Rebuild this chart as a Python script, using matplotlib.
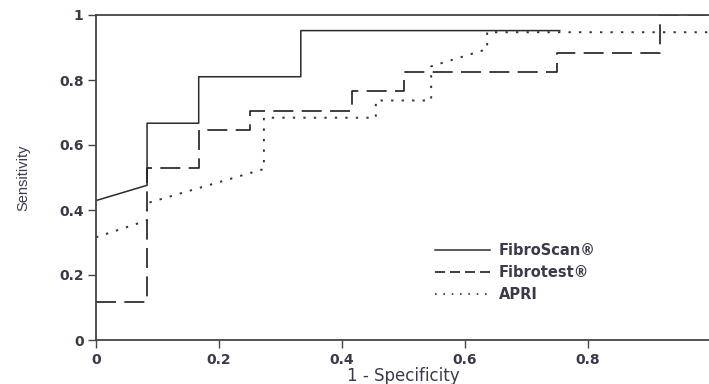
import matplotlib
matplotlib.use('Agg')
import matplotlib.pyplot as plt
from matplotlib.lines import Line2D

plt.rcParams['font.family'] = ['DejaVu Sans']

# ROC points (1 - specificity, sensitivity)
fibroscan_x = [0.0, 0.083, 0.083, 0.167, 0.167, 0.333, 0.333, 0.754]
fibroscan_y = [0.429, 0.476, 0.667, 0.667, 0.810, 0.810, 0.952, 0.952]

fibrotest_x = [0.0, 0.083, 0.083, 0.167, 0.167, 0.25, 0.25, 0.417, 0.417,
               0.5, 0.5, 0.75, 0.75, 0.917, 0.917, 1.0]
fibrotest_y = [0.118, 0.118, 0.529, 0.529, 0.647, 0.647, 0.706, 0.706, 0.765,
               0.765, 0.824, 0.824, 0.882, 0.882, 1.0, 1.0]

apri_x = [0.0, 0.083, 0.083, 0.273, 0.273, 0.455, 0.455, 0.545, 0.545,
          0.636, 0.636, 1.0]
apri_y = [0.316, 0.368, 0.421, 0.526, 0.684, 0.684, 0.737, 0.737, 0.842,
          0.895, 0.947, 0.947]

labels = ['FibroScan®', 'Fibrotest®', 'APRI']
x_ticks = [0, 0.2, 0.4, 0.6, 0.8]
y_ticks = [0, 0.2, 0.4, 0.6, 0.8, 1]

fig = plt.figure(figsize=(7.09, 3.84), dpi=100)
ax = fig.add_axes([96 / 709, 44 / 384, 615 / 709, 325 / 384])

line_col = '#2b2b2b'
ax.plot(fibroscan_x, fibroscan_y, color=line_col, lw=1.1)
ax.plot(fibrotest_x, fibrotest_y, color='#1e1e1e', lw=1.2, dashes=(12, 5))
ax.plot(apri_x, apri_y, color='#333333', lw=1.4, dashes=(1.2, 4.2))

ax.set_xlim(0, 1)
ax.set_ylim(0, 1)
ax.set_xticks(x_ticks)
ax.set_xticklabels(['0', '0.2', '0.4', '0.6', '0.8'])
ax.set_yticks(y_ticks)
ax.set_yticklabels(['0', '0.2', '0.4', '0.6', '0.8', '1'])

for side in ['left', 'bottom', 'top']:
    ax.spines[side].set_color('#444444')
    ax.spines[side].set_linewidth(1.3)
ax.spines['right'].set_visible(False)

ax.tick_params(axis='both', direction='out', length=6, width=1, color='#444444',
               labelsize=10, labelcolor='#3a3a4a', pad=3)
for t in ax.get_xticklabels() + ax.get_yticklabels():
    t.set_fontweight('bold')

ax.set_xlabel('1 - Specificity', fontsize=12, color='#3a3a4a')
ax.xaxis.set_label_coords(0.5, -0.083)
ax.set_ylabel('Sensitivity', family='Liberation Sans', fontsize=10.5, color='#3a3a4a')
ax.yaxis.set_label_coords(-0.107, 0.5)

handles = [
    Line2D([], [], color=line_col, lw=1.1),
    Line2D([], [], color='#1e1e1e', lw=1.2, dashes=(6, 3)),
    Line2D([], [], color='#333333', lw=1.2, dashes=(1, 4)),
]
leg = ax.legend(handles, labels, loc='upper left', bbox_to_anchor=(0.53, 0.34),
                frameon=False, handlelength=3.8, handletextpad=0.55,
                labelspacing=0.5, prop={'size': 10.5, 'weight': 'bold'})
for t in leg.get_texts():
    t.set_color('#3a3a4a')

fig.savefig('out.png', dpi=100)
